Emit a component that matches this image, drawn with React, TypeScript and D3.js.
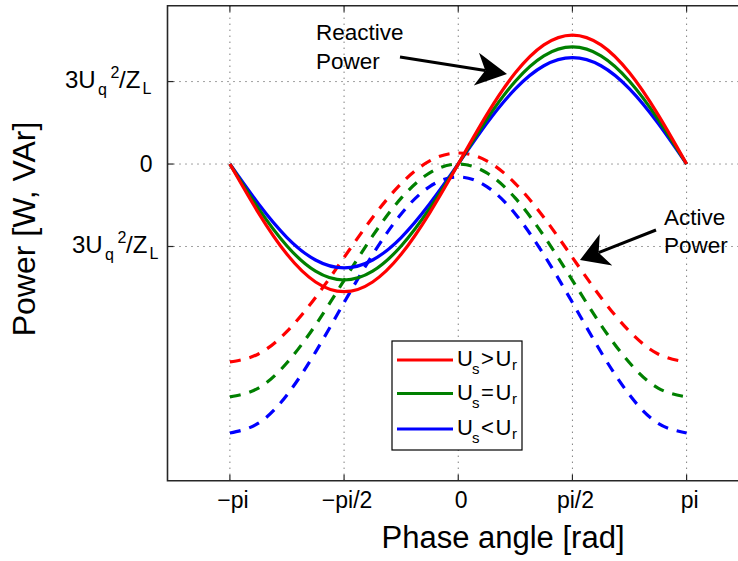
import React from 'react';
import * as d3 from 'd3';

// ---------- data ----------
const phase = [-3.1416, -2.7489, -2.3562, -1.9635, -1.5708, -1.1781, -0.7854, -0.3927, 0,
  0.3927, 0.7854, 1.1781, 1.5708, 1.9635, 2.3562, 2.7489, 3.1416];

const reactiveHigh = [0, -0.592, -1.095, -1.43, -1.548, -1.43, -1.095, -0.592, 0, 0.599, 1.106, 1.445, 1.564, 1.445, 1.106, 0.599, 0];
const reactiveEqual = [0, -0.538, -0.994, -1.299, -1.406, -1.299, -0.994, -0.538, 0, 0.543, 1.004, 1.312, 1.42, 1.312, 1.004, 0.543, 0];
const reactiveLow = [0, -0.482, -0.891, -1.164, -1.26, -1.164, -0.891, -0.482, 0, 0.494, 0.912, 1.192, 1.29, 1.192, 0.912, 0.494, 0];

const activeHigh = [-2.4, -2.303, -2.029, -1.618, -1.133, -0.648, -0.237, 0.038, 0.134, 0.038, -0.237, -0.648, -1.133, -1.618, -2.029, -2.303, -2.4];
const activeEqual = [-2.824, -2.717, -2.41, -1.952, -1.41, -0.872, -0.414, -0.107, 0, -0.107, -0.414, -0.872, -1.41, -1.952, -2.41, -2.717, -2.824];
const activeLow = [-3.261, -3.143, -2.8, -2.28, -1.68, -1.1, -0.605, -0.273, -0.157, -0.273, -0.605, -1.1, -1.68, -2.28, -2.8, -3.143, -3.261];

const xTickValues = [-3.1416, -1.5708, 0, 1.5708, 3.1416];
const xTickLabels = ['\u2212pi', '\u2212pi/2', '0', 'pi/2', 'pi'];
const yTickValues = [1, 0, -1];

const seriesNames = ['Us>Ur', 'Us=Ur', 'Us<Ur'];
const seriesColors = ['#ff0000', '#008000', '#0000ff'];
const legendOps = ['>', '=', '<'];

const FONT = 'Liberation Sans, Arial, Helvetica, sans-serif';

// ---------- layout ----------
const W = 738;
const H = 561;
const plotLeft = 167.5;
const plotRight = 749;
const plotTop = 5.7;
const plotBottom = 480.7;

const x = d3.scaleLinear().domain([-4, 4]).range([plotLeft, plotRight]);
const y = d3.scaleLinear().domain([-3.84, 1.92]).range([plotBottom, plotTop]);

const lineGen = d3
  .line<[number, number]>()
  .x((d) => x(d[0]))
  .y((d) => y(d[1]))
  .curve(d3.curveNatural);

function pathFor(values: number[]) {
  return lineGen(phase.map((p, i) => [p, values[i]] as [number, number])) || '';
}

function Arrow({ x1, y1, x2, y2, headLen, halfW, indent }: any) {
  const dx = x2 - x1;
  const dy = y2 - y1;
  const L = Math.hypot(dx, dy);
  const ux = dx / L;
  const uy = dy / L;
  const px = -uy;
  const py = ux;
  const bx = x2 - ux * headLen;
  const by = y2 - uy * headLen;
  const ix = x2 - ux * indent;
  const iy = y2 - uy * indent;
  const pts = [
    [x2, y2],
    [bx + px * halfW, by + py * halfW],
    [ix, iy],
    [bx - px * halfW, by - py * halfW],
  ]
    .map((p) => p.join(','))
    .join(' ');
  return (
    <g>
      <line x1={x1} y1={y1} x2={ix} y2={iy} stroke="#000" strokeWidth={3} />
      <polygon points={pts} fill="#000" />
    </g>
  );
}

function YFracLabel({ x0, base }: { x0: number; base: number }) {
  return (
    <text fontFamily={FONT} fill="#000" fontSize={24}>
      <tspan x={x0} y={base}>3U</tspan>
      <tspan x={x0 + 33} y={base + 6.2} fontSize={16}>q</tspan>
      <tspan x={x0 + 45.5} y={base - 10.3} fontSize={16}>2</tspan>
      <tspan x={x0 + 54} y={base}>/Z</tspan>
      <tspan x={x0 + 77.5} y={base + 6} fontSize={16}>L</tspan>
    </text>
  );
}

export default function App() {
  const reactive = [reactiveHigh, reactiveEqual, reactiveLow];
  const active = [activeHigh, activeEqual, activeLow];
  const order = [2, 1, 0];

  const legendX = 392;
  const legendY = 341;
  const legendW = 130;
  const legendH = 109;
  const legendRows = [360, 393.5, 429];

  return (
    <svg
      width={W}
      height={H}
      style={{ position: 'absolute', left: 0, top: 0, background: '#fff' }}
      fontFamily={FONT}
    >
      <rect x={0} y={0} width={W} height={H} fill="#fff" />

      {/* grid */}
      <g stroke="#444" strokeWidth={1} strokeDasharray="1,5">
        {xTickValues.map((v, i) => (
          <line key={'gx' + i} x1={x(v)} x2={x(v)} y1={plotTop} y2={plotBottom} />
        ))}
        {yTickValues.map((v, i) => (
          <line key={'gy' + i} x1={plotLeft} x2={plotRight} y1={y(v)} y2={y(v)} />
        ))}
      </g>

      {/* tick marks */}
      <g stroke="#262626" strokeWidth={1.2}>
        {xTickValues.map((v, i) => (
          <g key={'tx' + i}>
            <line x1={x(v)} x2={x(v)} y1={plotBottom} y2={plotBottom - 6} />
            <line x1={x(v)} x2={x(v)} y1={plotTop} y2={plotTop + 6} />
          </g>
        ))}
        {yTickValues.map((v, i) => (
          <line key={'ty' + i} x1={plotLeft} x2={plotLeft + 6} y1={y(v)} y2={y(v)} />
        ))}
      </g>

      {/* axes box */}
      <path
        d={`M${plotRight},${plotTop} H${plotLeft} V${plotBottom} H${plotRight}`}
        fill="none"
        stroke="#262626"
        strokeWidth={1.6}
      />

      {/* active power (dashed) */}
      {order.map((k) => (
        <path
          key={'a' + k}
          d={pathFor(active[k])}
          fill="none"
          stroke={seriesColors[k]}
          strokeWidth={3.2}
          strokeDasharray="11,9"
        />
      ))}

      {/* reactive power (solid) */}
      {order.map((k) => (
        <path
          key={'r' + k}
          d={pathFor(reactive[k])}
          fill="none"
          stroke={seriesColors[k]}
          strokeWidth={3.2}
          strokeLinejoin="round"
        />
      ))}

      {/* x tick labels */}
      {xTickValues.map((v, i) => (
        <text
          key={'xl' + i}
          x={x(v) + 3}
          y={508}
          fontSize={23}
          textAnchor="middle"
          fill="#000"
        >
          {xTickLabels[i]}
        </text>
      ))}

      {/* y tick labels */}
      <YFracLabel x0={65} base={88.3} />
      <text x={152.5} y={171.7} fontSize={23} textAnchor="end" fill="#000">0</text>
      <YFracLabel x0={72} base={253.3} />

      {/* axis labels */}
      <text x={503} y={548} fontSize={31} textAnchor="middle" fill="#000">
        Phase angle [rad]
      </text>
      <text
        transform="translate(35,229) rotate(-90)"
        fontSize={32}
        textAnchor="middle"
        fill="#000"
      >
        Power [W, VAr]
      </text>

      {/* annotations */}
      <text x={316} y={40} fontSize={22.5} fill="#000">Reactive</text>
      <text x={316} y={69} fontSize={22.5} fill="#000">Power</text>
      <Arrow x1={400} y1={57} x2={507} y2={74} headLen={31} halfW={16.5} indent={22} />

      <text x={664} y={225} fontSize={22.5} fill="#000">Active</text>
      <text x={664} y={253} fontSize={22.5} fill="#000">Power</text>
      <Arrow x1={656} y1={230} x2={580} y2={260} headLen={28} halfW={17} indent={20} />

      {/* legend */}
      <rect x={legendX} y={legendY} width={legendW} height={legendH} fill="#fff" stroke="#000" strokeWidth={1.2} />
      {seriesNames.map((name, i) => (
        <g key={'lg' + i}>
          <line
            x1={397}
            x2={453}
            y1={legendRows[i]}
            y2={legendRows[i]}
            stroke={seriesColors[i]}
            strokeWidth={3.2}
          />
          <text fontSize={22} fill="#000">
            <tspan x={457} y={legendRows[i] + 6}>U</tspan>
            <tspan x={472} y={legendRows[i] + 14} fontSize={15}>s</tspan>
            <tspan x={481} y={legendRows[i] + 6}>{legendOps[i]}</tspan>
            <tspan x={495.5} y={legendRows[i] + 6}>U</tspan>
            <tspan x={512} y={legendRows[i] + 10} fontSize={15}>r</tspan>
          </text>
        </g>
      ))}
    </svg>
  );
}
